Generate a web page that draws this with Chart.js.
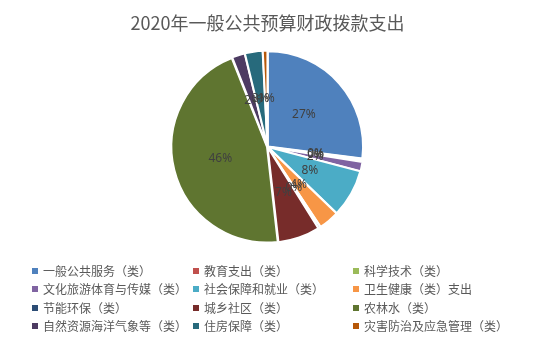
<!DOCTYPE html>
<html>
<head>
<meta charset="utf-8">
<script src="https://cdn.jsdelivr.net/npm/chart.js@4/dist/chart.umd.min.js"></script>
<style>
  body { margin: 0; background: #fff; }
  #wrap { position: relative; width: 535px; height: 345px; overflow: hidden; }
  #chart { position: absolute; left: 0; top: 0; }
  .item { position: absolute; font: 12px "Noto Sans CJK SC", sans-serif; color: #595959; white-space: nowrap; line-height: 14px; }
  .item span.box { display: inline-block; width: 6px; height: 6px; margin-right: 5px; vertical-align: 2px; }
</style>
</head>
<body>
<div id="wrap">
  <canvas id="chart" width="535" height="345"></canvas>
  <div id="legend"></div>
</div>
<script>
// categories and shares (percent)
var categorias = ['一般公共服务（类）', '教育支出（类）', '科学技术（类）',
  '文化旅游体育与传媒（类）', '社会保障和就业（类）', '卫生健康（类）支出',
  '节能环保（类）', '城乡社区（类）', '农林水（类）',
  '自然资源海洋气象等（类）', '住房保障（类）', '灾害防治及应急管理（类）'];
var valores = [27.0, 0.3, 0.2, 1.6, 8.1, 3.5, 0.4, 7.1, 45.8, 2.2, 3.0, 0.8];
var colores = ['#4F81BD', '#C0504D', '#9BBB59', '#8064A2', '#4BACC6', '#F79646',
  '#2C4D75', '#772C2A', '#5F7530', '#4D3B62', '#276A7C', '#B65708'];

// percent labels inside the slices
var etiquetas = {
  id: 'etiquetas',
  afterDatasetsDraw: function (chart) {
    var ctx = chart.ctx;
    var meta = chart.getDatasetMeta(0);
    var total = valores.reduce(function (a, b) { return a + b; }, 0);
    ctx.save();
    ctx.font = '12px "Noto Sans", sans-serif';
    ctx.fillStyle = '#404040';
    ctx.textAlign = 'center';
    ctx.textBaseline = 'middle';
    for (var i = 0; i < meta.data.length; i++) {
      var p = meta.data[i].tooltipPosition();
      ctx.fillText(Math.round(valores[i] / total * 100) + '%', p.x, p.y);
    }
    ctx.restore();
  }
};

new Chart(document.getElementById('chart'), {
  type: 'pie',
  data: {
    labels: categorias,
    datasets: [{
      data: valores,
      backgroundColor: colores,
      borderColor: '#ffffff',
      borderWidth: 2,
      offset: 2
    }]
  },
  options: {
    responsive: false,
    animation: false,
    layout: { padding: { top: 0, bottom: 101, left: 0, right: 0 } },
    plugins: {
      legend: { display: false },
      tooltip: { enabled: false },
      title: {
        display: true,
        text: '2020年一般公共预算财政拨款支出',
        color: '#595959',
        font: { family: '"Noto Sans CJK SC", sans-serif', size: 18, weight: 'normal' },
        padding: { top: 12, bottom: 16 }
      }
    }
  },
  plugins: [etiquetas]
});

// legend, three columns like the original
var leg = document.getElementById('legend');
var colX = [32, 193, 353];
for (var i = 0; i < categorias.length; i++) {
  var d = document.createElement('div');
  d.className = 'item';
  d.style.left = colX[i % 3] + 'px';
  d.style.top = (264 + Math.floor(i / 3) * 18.3) + 'px';
  d.innerHTML = '<span class="box" style="background:' + colores[i] + '"></span>' + categorias[i];
  leg.appendChild(d);
}
</script>
</body>
</html>
